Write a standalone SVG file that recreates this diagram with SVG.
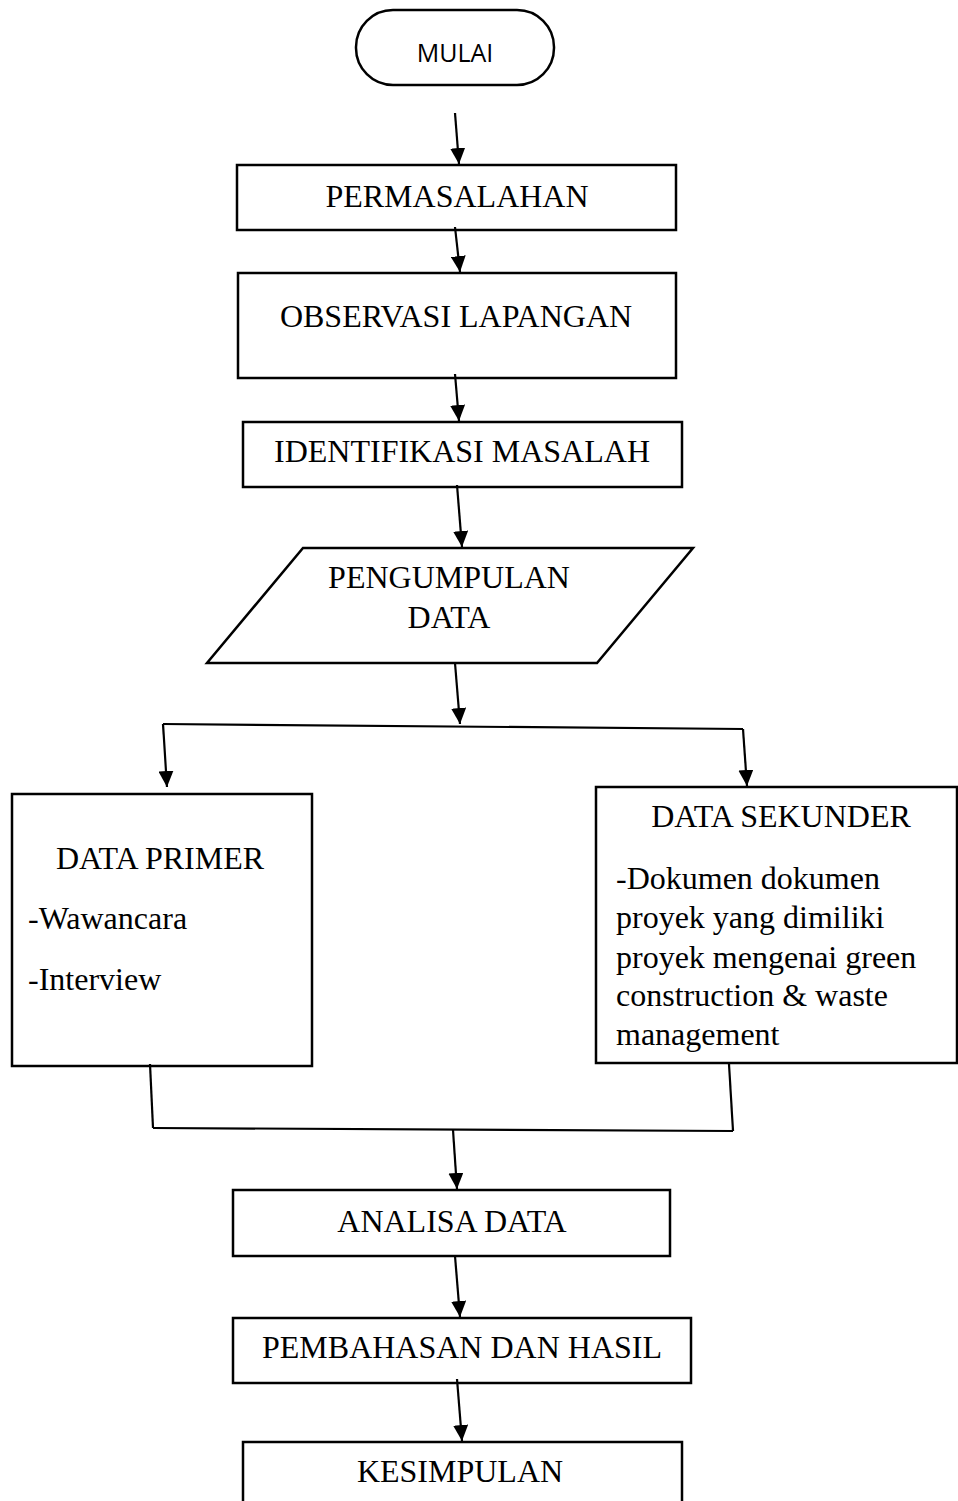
<svg xmlns="http://www.w3.org/2000/svg" width="958" height="1501" viewBox="0 0 958 1501">
<style>
.box{fill:#fff;stroke:#000;stroke-width:2.5}
.t{font-family:"Liberation Serif","Times New Roman",serif;font-size:32px;fill:#000}
.c{text-anchor:middle}
.s{font-family:"Open Sans","Liberation Sans",sans-serif;font-size:25px;fill:#000;text-anchor:middle}
.ln{fill:none;stroke:#000;stroke-width:2.2}
.ar{fill:none;stroke:#000;stroke-width:2.2;marker-end:url(#ah)}
</style>
<defs>
<marker id="ah" markerUnits="userSpaceOnUse" viewBox="0 0 16 15" refX="16" refY="7.5" markerWidth="16" markerHeight="15" orient="auto">
<path d="M0,0 L16,7.5 L0,15 z" fill="#000"/>
</marker>
</defs>
<rect width="958" height="1501" fill="#fff"/>
<g id="mulai">
<rect class="box" x="356" y="10" width="198" height="75" rx="37" ry="37"/>
<text class="s" x="455" y="62">MULAI</text>
</g>
<g id="permasalahan">
<rect class="box" x="237" y="165" width="439" height="65"/>
<text class="t c" x="457" y="207">PERMASALAHAN</text>
</g>
<g id="observasi">
<rect class="box" x="238" y="273" width="438" height="105"/>
<text class="t c" x="456" y="327">OBSERVASI LAPANGAN</text>
</g>
<g id="identifikasi">
<rect class="box" x="243" y="422" width="439" height="65"/>
<text class="t c" x="462" y="462">IDENTIFIKASI MASALAH</text>
</g>
<g id="pengumpulan">
<polygon class="box" points="303,548 693,548 597,663 207,663"/>
<text class="t c" x="449" y="588">PENGUMPULAN</text>
<text class="t c" x="449" y="628">DATA</text>
</g>
<g id="primer">
<rect class="box" x="12" y="794" width="300" height="272"/>
<text class="t c" x="160" y="869">DATA PRIMER</text>
<text class="t" x="28" y="929">-Wawancara</text>
<text class="t" x="28" y="990">-Interview</text>
</g>
<g id="sekunder">
<rect class="box" x="596" y="787" width="361" height="276"/>
<text class="t c" x="781" y="827">DATA SEKUNDER</text>
<text class="t" x="616" y="889">-Dokumen dokumen</text>
<text class="t" x="616" y="928">proyek yang dimiliki</text>
<text class="t" x="616" y="968">proyek mengenai green</text>
<text class="t" x="616" y="1006">construction &amp; waste</text>
<text class="t" x="616" y="1045">management</text>
</g>
<g id="analisa">
<rect class="box" x="233" y="1190" width="437" height="66"/>
<text class="t c" x="452" y="1232">ANALISA DATA</text>
</g>
<g id="pembahasan">
<rect class="box" x="233" y="1318" width="458" height="65"/>
<text class="t c" x="462" y="1358">PEMBAHASAN DAN HASIL</text>
</g>
<g id="kesimpulan">
<rect class="box" x="243" y="1442" width="439" height="80"/>
<text class="t c" x="460" y="1482">KESIMPULAN</text>
</g>
<g id="connectors">
<line class="ar" x1="455" y1="113" x2="459" y2="164"/>
<line class="ar" x1="455" y1="227" x2="460" y2="272"/>
<line class="ar" x1="455" y1="374" x2="459" y2="421"/>
<line class="ar" x1="457" y1="485" x2="462" y2="547"/>
<line class="ar" x1="455" y1="663" x2="460" y2="724"/>
<line class="ln" x1="163" y1="724" x2="743" y2="729"/>
<line class="ar" x1="163" y1="724" x2="167" y2="787"/>
<line class="ar" x1="743" y1="729" x2="747" y2="786"/>
<line class="ln" x1="150" y1="1064" x2="153" y2="1128"/>
<line class="ln" x1="729" y1="1064" x2="733" y2="1131"/>
<line class="ln" x1="153" y1="1128" x2="733" y2="1131"/>
<line class="ar" x1="453" y1="1130" x2="457" y2="1189"/>
<line class="ar" x1="455" y1="1256" x2="460" y2="1317"/>
<line class="ar" x1="457" y1="1379" x2="462" y2="1441"/>
</g>
</svg>
